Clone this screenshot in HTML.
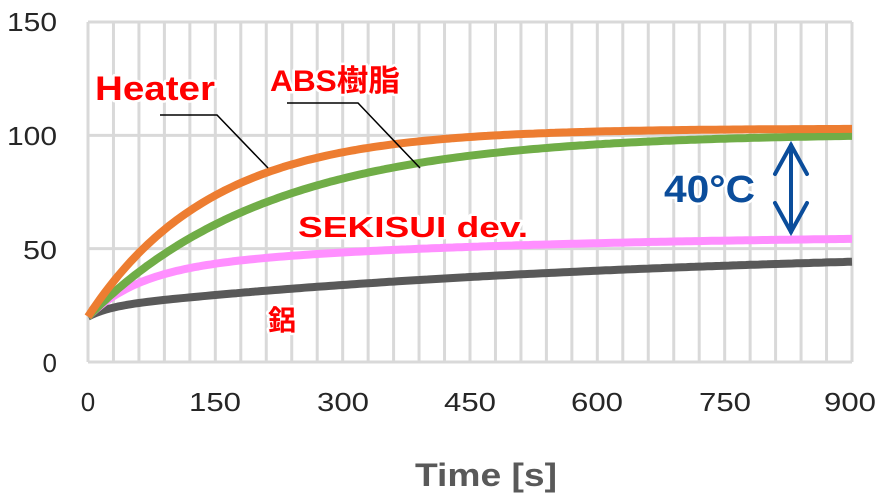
<!DOCTYPE html>
<html><head><meta charset="utf-8"><style>html,body{margin:0;padding:0;background:#fff}svg{display:block}</style></head>
<body>
<svg width="889" height="499" viewBox="0 0 889 499" xmlns="http://www.w3.org/2000/svg" font-family="'Liberation Sans','Noto Sans CJK JP',sans-serif">
<g id="grid" stroke="#d9d9d9" stroke-width="3"></g>
<g id="curves" fill="none" stroke-width="8" stroke-linejoin="round" stroke-linecap="butt"></g>
<g font-size="26" fill="#262626" text-anchor="end">
<text x="57" y="31" textLength="50" lengthAdjust="spacingAndGlyphs">150</text><text x="57" y="145" textLength="50" lengthAdjust="spacingAndGlyphs">100</text><text x="57" y="259" textLength="34" lengthAdjust="spacingAndGlyphs">50</text><text x="57" y="372">0</text>
</g>
<g font-size="26" fill="#262626" text-anchor="middle">
<text x="88" y="411">0</text><text x="215" y="411" textLength="52" lengthAdjust="spacingAndGlyphs">150</text><text x="343" y="411" textLength="52" lengthAdjust="spacingAndGlyphs">300</text><text x="470" y="411" textLength="52" lengthAdjust="spacingAndGlyphs">450</text><text x="597" y="411" textLength="52" lengthAdjust="spacingAndGlyphs">600</text><text x="725" y="411" textLength="52" lengthAdjust="spacingAndGlyphs">750</text><text x="850" y="411" textLength="52" lengthAdjust="spacingAndGlyphs">900</text>
</g>
<text x="415" y="486" font-size="32" font-weight="bold" fill="#595959" textLength="142" lengthAdjust="spacingAndGlyphs">Time [s]</text>
<polyline points="160,115 217,115 268,168" fill="none" stroke="#000" stroke-width="1.5"/>
<polyline points="287,103 358,103 420,168" fill="none" stroke="#000" stroke-width="1.5"/>
<g font-weight="bold" fill="#ff0000" stroke="#fff" stroke-width="5" paint-order="stroke" stroke-linejoin="round">
<text x="95" y="100" font-size="34" textLength="120" lengthAdjust="spacingAndGlyphs">Heater</text>
<text x="270" y="91" font-size="30" textLength="130" lengthAdjust="spacingAndGlyphs">ABS樹脂</text>
<text x="298" y="237" font-size="29" textLength="230" lengthAdjust="spacingAndGlyphs">SEKISUI dev.</text>
<text x="268" y="330" font-size="28">鋁</text>
<text x="664" y="202" font-size="38" fill="#0b4d9b" textLength="91" lengthAdjust="spacingAndGlyphs">40°C</text>
</g>
<g stroke="#0b4d9b" stroke-width="4" fill="none" stroke-linecap="round">
<line x1="791" y1="145" x2="791" y2="232"/>
<polyline points="775,174 791,145 807,174"/>
<polyline points="775,203 791,232 807,203"/>
</g>
<script>
(function(){
var g=document.getElementById('grid'),ns='http://www.w3.org/2000/svg';
var L=88,R=852,T=22,B=362;
function ln(x1,y1,x2,y2){var l=document.createElementNS(ns,'line');l.setAttribute('x1',x1);l.setAttribute('y1',y1);l.setAttribute('x2',x2);l.setAttribute('y2',y2);g.appendChild(l);}
for(var i=0;i<=30;i++){var x=L+(R-L)*i/30;ln(x,T,x,B);}
for(var j=0;j<=3;j++){var y=B-(B-T)*j/3;ln(L,y,R,y);}
function X(t){return L+(R-L)*t/900;}function Y(v){return B-(B-T)*v/150;}
var fs=[
['#595959',function(t){return 20+4*(1-Math.exp(-t/25))+27*(1-Math.exp(-t/650));}],
['#ff8fff',function(t){return 20+20*(1-Math.exp(-t/60))+16*(1-Math.exp(-t/400));}],
['#70ad47',function(t){return 20+81*(1-Math.exp(-t/215));}],
['#ed7d31',function(t){return 20+83*(1-Math.exp(-t/145));}]];
var c=document.getElementById('curves');
fs.forEach(function(f){var p=[];for(var t=0;t<=900;t+=5)p.push(X(t).toFixed(1)+','+Y(f[1](t)).toFixed(1));
var e=document.createElementNS(ns,'polyline');e.setAttribute('points',p.join(' '));e.setAttribute('stroke',f[0]);c.appendChild(e);});
})();
</script>
</svg>
</body></html>
